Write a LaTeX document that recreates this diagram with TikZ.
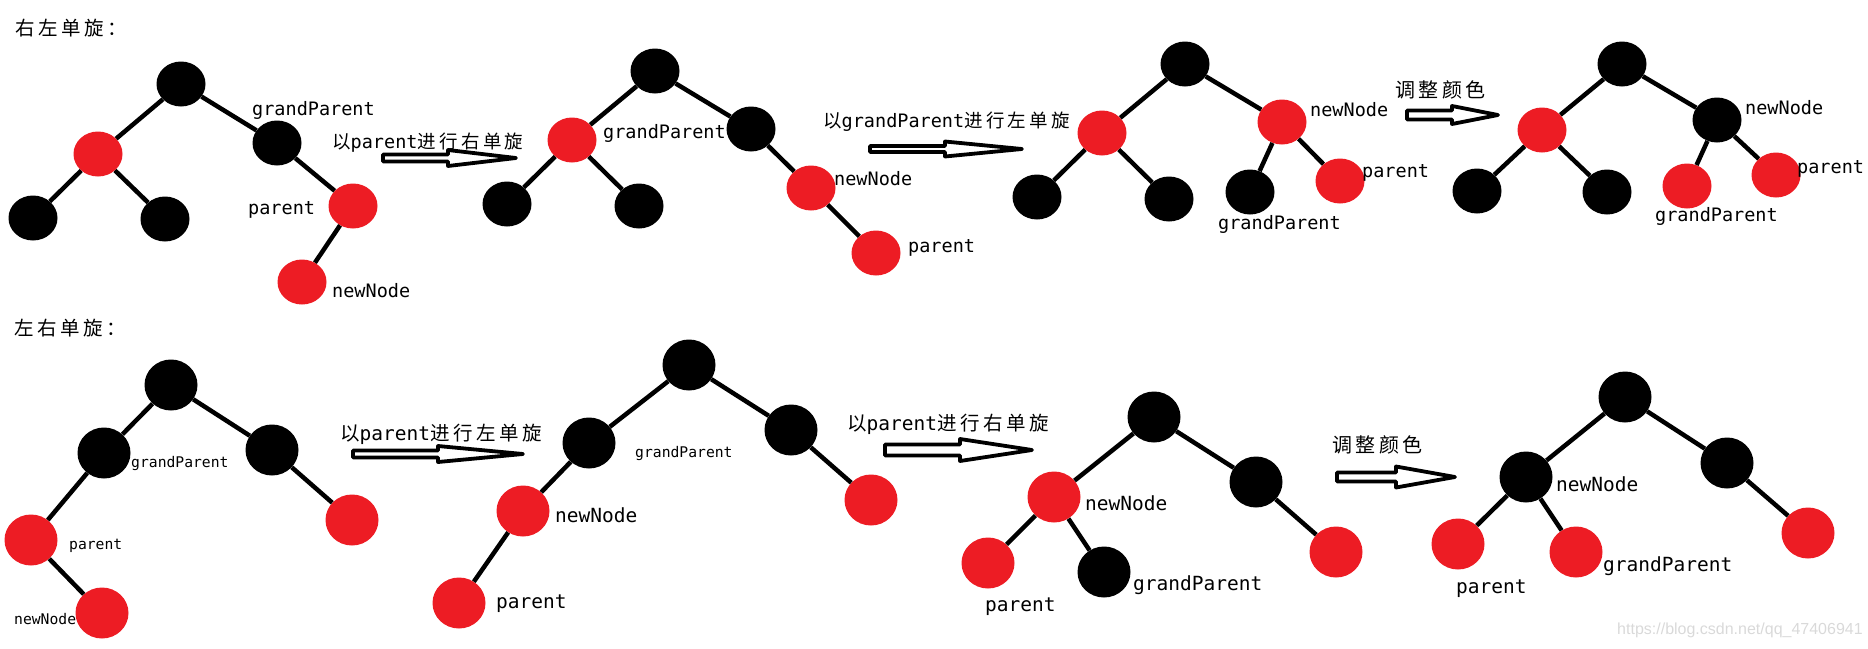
\documentclass[tikz,border=0pt]{standalone}
\usepackage{fontspec}
\setmonofont{DejaVu Sans Mono}
\newfontfamily\cjk[LetterSpace=18]{Noto Sans CJK SC}
\newfontfamily\wmfont{Liberation Sans}
\usetikzlibrary{shapes.geometric}
\definecolor{nodered}{RGB}{237,28,36}

\begin{document}
\begin{tikzpicture}[x=1pt, y=-1pt,
  nd/.style={ellipse, inner sep=0pt, minimum width=49pt, minimum height=45pt},
  bk/.style={nd, fill=black},
  rd/.style={nd, fill=nodered},
  edge/.style={line width=4.5pt},
  lbl/.style={anchor=west, inner sep=0pt, font=\ttfamily\fontsize{18.5}{20}\selectfont},
  lblb/.style={lbl, font=\ttfamily\fontsize{19.5}{21}\selectfont},
  lbls/.style={lbl, font=\ttfamily\fontsize{14.7}{16}\selectfont},
  captxt/.style={anchor=west, inner sep=0pt, font=\fontsize{18.5}{20}\selectfont},
  captxtb/.style={captxt, font=\fontsize{19.5}{21}\selectfont},
  blk/.style={draw, line width=3.8pt, fill=white, line join=round},
]
  \useasboundingbox (0,0) rectangle (1868,648);

  % titles
  \node[captxt, font=\cjk\fontsize{19.5}{22}\selectfont] (t1) at (15,28) {右左单旋：};
  \node[captxt, font=\cjk\fontsize{19.5}{22}\selectfont] (t2) at (14,328) {左右单旋：};

  % top row, tree 1
  \node[bk] (a1r) at (181,84) {};
  \node[rd] (a1l) at (98,154) {};
  \node[bk] (a1ll) at (33,218) {};
  \node[bk] (a1lr) at (165,219) {};
  \node[bk] (a1g) at (277,143) {};
  \node[rd] (a1p) at (353,206) {};
  \node[rd] (a1n) at (302,282) {};
  \draw[edge] (a1r) -- (a1l) (a1l) -- (a1ll) (a1l) -- (a1lr)
    (a1r) -- (a1g) (a1g) -- (a1p) (a1p) -- (a1n);
  \node[lbl] (a1gt) at (252,110) {grandParent};
  \node[lbl] (a1pt) at (248,210) {parent};
  \node[lbl] (a1nt) at (332,291) {newNode};

  % top row, tree 2
  \node[bk] (a2r) at (655,71) {};
  \node[rd] (a2g) at (572,140) {};
  \node[bk] (a2ll) at (507,204) {};
  \node[bk] (a2lr) at (639,206) {};
  \node[bk] (a2rt) at (751,129) {};
  \node[rd] (a2n) at (811,188) {};
  \node[rd] (a2p) at (876,253) {};
  \draw[edge] (a2r) -- (a2g) (a2g) -- (a2ll) (a2g) -- (a2lr)
    (a2r) -- (a2rt) (a2rt) -- (a2n) (a2n) -- (a2p);
  \node[lbl] (a2gt) at (603,133) {grandParent};
  \node[lbl] (a2nt) at (834,179) {newNode};
  \node[lbl] (a2pt) at (908,248) {parent};

  % top row, tree 3
  \node[bk] (a3r) at (1185,64) {};
  \node[rd] (a3l) at (1102,133) {};
  \node[bk] (a3ll) at (1037,197) {};
  \node[bk] (a3lr) at (1169,199) {};
  \node[rd] (a3n) at (1282,122) {};
  \node[bk] (a3g) at (1250,192) {};
  \node[rd] (a3p) at (1340,181) {};
  \draw[edge] (a3r) -- (a3l) (a3l) -- (a3ll) (a3l) -- (a3lr)
    (a3r) -- (a3n) (a3n) -- (a3g) (a3n) -- (a3p);
  \node[lbl] (a3nt) at (1310,110) {newNode};
  \node[lbl] (a3gt) at (1218,224) {grandParent};
  \node[lbl] (a3pt) at (1362,173) {parent};

  % top row, tree 4
  \node[bk] (a4r) at (1622,64) {};
  \node[rd] (a4l) at (1542,130) {};
  \node[bk] (a4ll) at (1477,191) {};
  \node[bk] (a4lr) at (1607,192) {};
  \node[bk] (a4n) at (1717,120) {};
  \node[rd] (a4g) at (1687,186) {};
  \node[rd] (a4p) at (1776,175) {};
  \draw[edge] (a4r) -- (a4l) (a4l) -- (a4ll) (a4l) -- (a4lr)
    (a4r) -- (a4n) (a4n) -- (a4g) (a4n) -- (a4p);
  \node[lbl] (a4nt) at (1745,108) {newNode};
  \node[lbl] (a4gt) at (1655,216) {grandParent};
  \node[lbl] (a4pt) at (1797,169) {parent};

  \begin{scope}[nd/.append style={minimum width=53pt, minimum height=51pt}]
    % bottom row, tree 1
    \node[bk] (b1r) at (171,385) {};
    \node[bk] (b1g) at (104,453) {};
    \node[bk] (b1rt) at (272,450) {};
    \node[rd] (b1rr) at (352,520) {};
    \node[rd] (b1p) at (31,540) {};
    \node[rd] (b1n) at (102,613) {};
    \draw[edge] (b1r) -- (b1g) (b1g) -- (b1p) (b1p) -- (b1n)
      (b1r) -- (b1rt) (b1rt) -- (b1rr);
    \node[lbls] (b1gt) at (131,463) {grandParent};
    \node[lbls] (b1pt) at (69,546) {parent};
    \node[lbls] (b1nt) at (14,619) {newNode};

    % bottom row, tree 2
    \node[bk] (b2r) at (689,365) {};
    \node[bk] (b2g) at (589,443) {};
    \node[bk] (b2rt) at (791,430) {};
    \node[rd] (b2rr) at (871,500) {};
    \node[rd] (b2n) at (523,511) {};
    \node[rd] (b2p) at (459,603) {};
    \draw[edge] (b2r) -- (b2g) (b2g) -- (b2n) (b2n) -- (b2p)
      (b2r) -- (b2rt) (b2rt) -- (b2rr);
    \node[lbls] (b2gt) at (635,453) {grandParent};
    \node[lblb] (b2nt) at (555,515) {newNode};
    \node[lblb] (b2pt) at (496,604) {parent};

    % bottom row, tree 3
    \node[bk] (b3r) at (1154,417) {};
    \node[rd] (b3n) at (1054,497) {};
    \node[rd] (b3p) at (988,563) {};
    \node[bk] (b3g) at (1104,572) {};
    \node[bk] (b3rt) at (1256,482) {};
    \node[rd] (b3rr) at (1336,552) {};
    \draw[edge] (b3r) -- (b3n) (b3n) -- (b3p) (b3n) -- (b3g)
      (b3r) -- (b3rt) (b3rt) -- (b3rr);
    \node[lblb] (b3nt) at (1085,503) {newNode};
    \node[lblb] (b3pt) at (985,607) {parent};
    \node[lblb] (b3gt) at (1133,585) {grandParent};

    % bottom row, tree 4
    \node[bk] (b4r) at (1625,397) {};
    \node[bk] (b4n) at (1526,477) {};
    \node[bk] (b4rt) at (1727,463) {};
    \node[rd] (b4p) at (1458,544) {};
    \node[rd] (b4g) at (1576,552) {};
    \node[rd] (b4rr) at (1808,533) {};
    \draw[edge] (b4r) -- (b4n) (b4n) -- (b4p) (b4n) -- (b4g)
      (b4r) -- (b4rt) (b4rt) -- (b4rr);
    \node[lblb] (b4nt) at (1556,484) {newNode};
    \node[lblb] (b4pt) at (1456,589) {parent};
    \node[lblb] (b4gt) at (1603,566) {grandParent};
  \end{scope}

  % step captions
  \node[captxt] (c1) at (332,143) {{\cjk 以}{\ttfamily parent}{\cjk 进行右单旋}};
  \node[captxt] (c2) at (823,122) {{\cjk 以}{\ttfamily grandParent}{\cjk 进行左单旋}};
  \node[captxt, font=\cjk\fontsize{20}{22}\selectfont] (c3) at (1395,90) {调整颜色};
  \node[captxtb] (c4) at (340,434) {{\cjk 以}{\ttfamily parent}{\cjk 进行左单旋}};
  \node[captxtb] (c5) at (847,424) {{\cjk 以}{\ttfamily parent}{\cjk 进行右单旋}};
  \node[captxtb, font=\cjk\fontsize{20}{22}\selectfont] (c6) at (1332,445) {调整颜色};

  % hollow step arrows
  \foreach \xa/\xb/\xc/\yy/\hs/\hh in {383/448/516/158/3.5/8, 870/945/1022/149/3/7.5,
      1407/1452/1498/115/4.5/9, 353/438/523/454/3.5/8, 885/960/1032/450/5.5/11,
      1337/1396/1455/477/4.5/10.5}
    \draw[blk] (\xa,\yy-\hs) -- (\xb,\yy-\hs) -- (\xb,\yy-\hh) -- (\xc,\yy)
      -- (\xb,\yy+\hh) -- (\xb,\yy+\hs) -- (\xa,\yy+\hs) -- cycle;

  \node[anchor=west, inner sep=0pt, text=gray!30, font=\wmfont\fontsize{16}{18}\selectfont]
    (wm) at (1617,630) {https://blog.csdn.net/qq\_47406941};
\end{tikzpicture}
\end{document}
